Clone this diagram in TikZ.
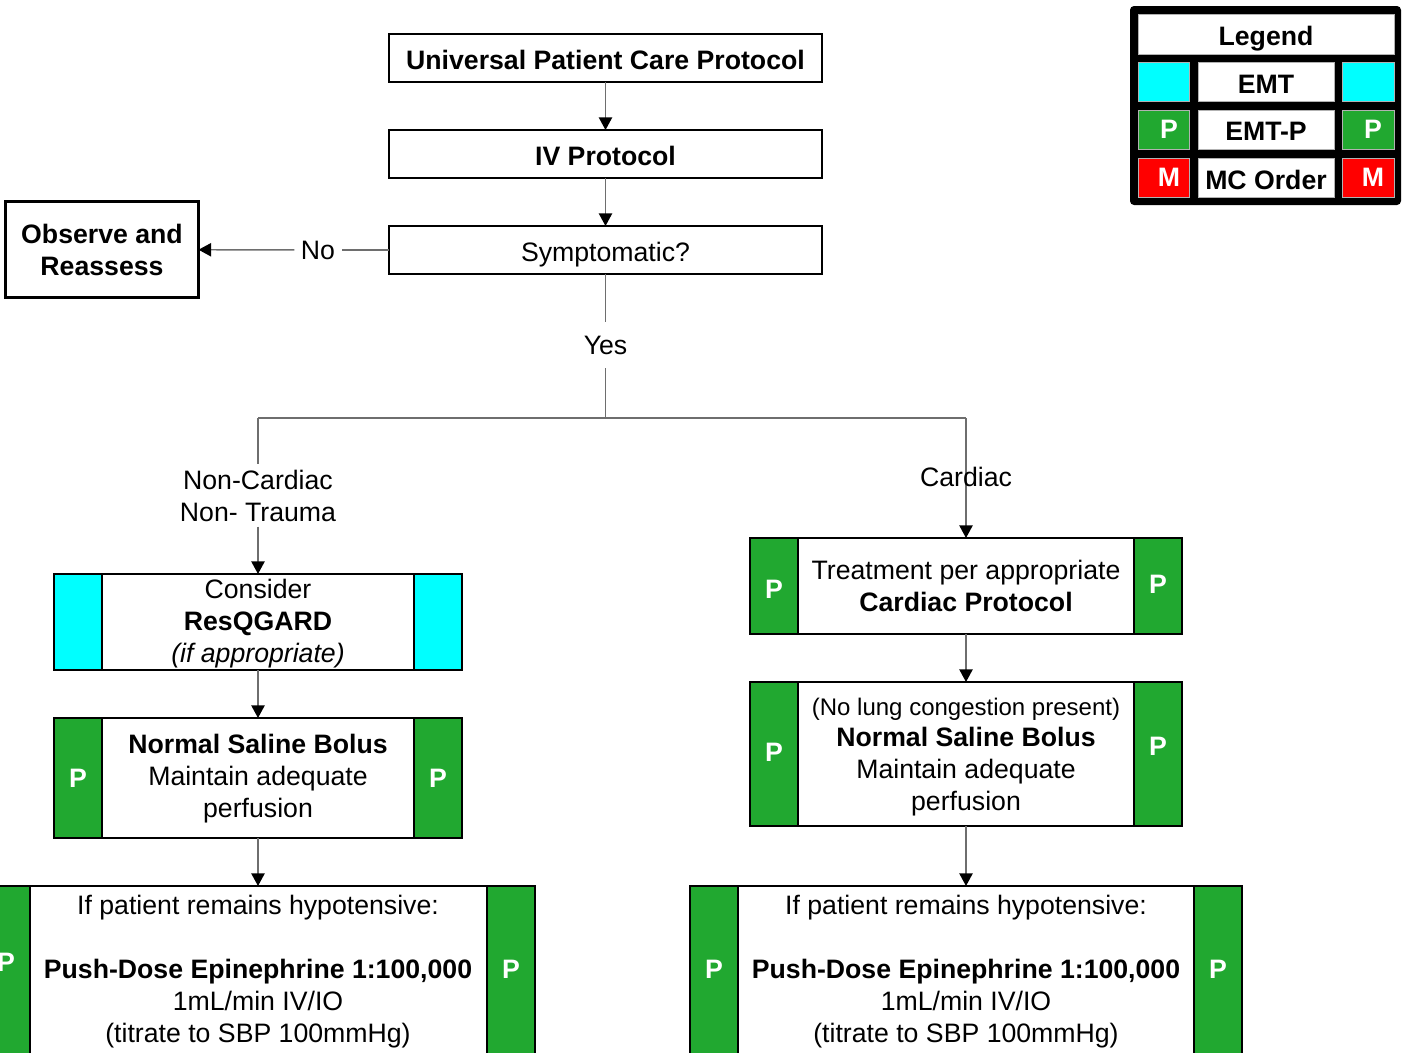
\documentclass[tikz,border=0pt]{standalone}
\usepackage{fontspec}
\setmainfont{Liberation Sans}
\usetikzlibrary{arrows.meta}
\definecolor{pgreen}{RGB}{33,168,48}
\definecolor{ecyan}{RGB}{0,255,255}
\definecolor{mred}{RGB}{255,0,0}
\definecolor{connc}{RGB}{110,110,110}
\begin{document}
\begin{tikzpicture}[x=0.75pt,y=-0.75pt,
  every node/.style={font=\fontsize{20}{24}\selectfont, inner sep=0pt, outer sep=0pt, text=black},
  box/.style={draw=black, line width=1.9pt, fill=white},
  sidebox/.style={draw=black, line width=1.9pt, minimum width=36pt, font=\fontsize{20}{24}\selectfont\bfseries, text=white},
  pbox/.style={sidebox, fill=pgreen},
  ebox/.style={sidebox, fill=ecyan},
  conn/.style={draw=connc, line width=1.1pt},
  arr/.style={conn, -{Triangle[length=9.5pt,width=10pt,color=black]}},
  bld/.style={font=\fontsize{20}{24}\selectfont\bfseries},
  cell/.style={draw=gray!60, line width=0.5pt},
  ptxt/.style={text=white, bld}
]
\useasboundingbox (0,0) rectangle (1403,1053);
\clip (0,0) rectangle (1403,1053);

% top boxes
\node[box, minimum width=433*0.75pt, minimum height=48*0.75pt] (upc) at (605.5,58) {};
\node[bld] (upct) at (605.5,60) {Universal Patient Care Protocol};
\node[box, minimum width=433*0.75pt, minimum height=48*0.75pt] (iv) at (605.5,154) {};
\node[bld] (ivt) at (605.5,156) {IV Protocol};
\node[box, minimum width=433*0.75pt, minimum height=48*0.75pt] (symp) at (605.5,250) {};
\node (sympt) at (605.5,255) {Symptomatic?};
\node[box, bld, align=center, minimum width=193*0.75pt, minimum height=96*0.75pt] (obs) at (102,249.5) {Observe and\\Reassess};

\draw[arr] (upc) -- (iv);
\draw[arr] (iv) -- (symp);

\node[inner xsep=5pt] (no) at (318,250) {No};
\draw[conn] (symp) -- (no);
\draw[arr] (no) -- (obs);

\node[inner ysep=10.5pt] (yes) at (605.5,345) {Yes};
\coordinate (j) at (605.5,418);
\coordinate (jl) at (258,418);
\coordinate (jr) at (966,418);
\draw[conn] (symp) -- (yes);
\draw[conn] (yes) -- (j);
\draw[conn] (jl) -- (jr);

% left column
\node[box, minimum width=408*0.75pt, minimum height=96*0.75pt] (cons) at (258,622) {};
\node[ebox, minimum height=96*0.75pt] (consl) at (78,622) {};
\node[ebox, minimum height=96*0.75pt] (consr) at (438,622) {};
\node[align=center] (const) at (258,624) {Consider\\\textbf{ResQGARD}\\\textit{(if appropriate)}};

\node[box, minimum width=408*0.75pt, minimum height=120*0.75pt] (ns1) at (258,778) {};
\node[pbox, minimum height=120*0.75pt] (ns1l) at (78,778) {P};
\node[pbox, minimum height=120*0.75pt] (ns1r) at (438,778) {P};
\node[align=center] (ns1t) at (258,779) {\textbf{Normal Saline Bolus}\\Maintain adequate\\perfusion};

\node[box, minimum width=553*0.75pt, minimum height=190*0.75pt] (push1) at (258.5,981) {};
\node[pbox, minimum height=190*0.75pt] (push1l) at (6,981) {};
\node[pbox, minimum height=190*0.75pt] (push1r) at (511,981) {};
\node[ptxt] (push1lp) at (6,962) {P};
\node[ptxt] (push1rp) at (511,969) {P};
\node[align=center] (push1t) at (258,972) {If patient remains hypotensive:\\[24pt]\textbf{Push-Dose Epinephrine 1:100,000}\\1mL/min IV/IO\\(titrate to SBP 100mmHg)};

\node[align=center, inner ysep=4pt] (nc) at (258,495.5) {Non-Cardiac\\Non- Trauma};
\draw[conn] (jl) -- (nc);
\draw[arr] (nc) -- (cons);
\draw[arr] (cons) -- (ns1);
\draw[arr] (ns1.south) -- (ns1.south |- push1.north);

% right column
\node[box, minimum width=432*0.75pt, minimum height=96*0.75pt] (treat) at (966,586) {};
\node[pbox, minimum height=96*0.75pt] (treatl) at (774,586) {};
\node[pbox, minimum height=96*0.75pt] (treatr) at (1158,586) {};
\node[ptxt] (treatlp) at (774,589) {P};
\node[ptxt] (treatrp) at (1158,584) {P};
\node[align=center] (treatt) at (966,585.5) {Treatment per appropriate\\\textbf{Cardiac Protocol}};

\node[box, minimum width=432*0.75pt, minimum height=144*0.75pt] (ns2) at (966,754) {};
\node[pbox, minimum height=144*0.75pt] (ns2l) at (774,754) {};
\node[pbox, minimum height=144*0.75pt] (ns2r) at (1158,754) {};
\node[ptxt] (ns2lp) at (774,752) {P};
\node[ptxt] (ns2rp) at (1158,746) {P};
\node[align=center] (ns2t) at (966,757) {{\fontsize{18}{22}\selectfont (No lung congestion present)}\\[-1pt]\textbf{Normal Saline Bolus}\\Maintain adequate\\perfusion};

\node[box, minimum width=552*0.75pt, minimum height=190*0.75pt] (push2) at (966,981) {};
\node[pbox, minimum height=190*0.75pt] (push2l) at (714,981) {};
\node[pbox, minimum height=190*0.75pt] (push2r) at (1218,981) {};
\node[ptxt] (push2lp) at (714,969) {P};
\node[ptxt] (push2rp) at (1218,969) {P};
\node[align=center] (push2t) at (966,972) {If patient remains hypotensive:\\[24pt]\textbf{Push-Dose Epinephrine 1:100,000}\\1mL/min IV/IO\\(titrate to SBP 100mmHg)};

\draw[arr] (jr) -- (treat.north);
\node (card) at (966,477) {Cardiac};
\draw[arr] (treat) -- (ns2);
\draw[arr] (ns2) -- (push2);

% legend
\node[fill=black, rounded corners=3pt, minimum width=271*0.75pt, minimum height=199*0.75pt] (legend) at (1265.5,105.5) {};
\node[cell, fill=white, minimum width=256*0.75pt, minimum height=40*0.75pt] (legt) at (1266,34) {};
\node[bld] (legtt) at (1266,39) {Legend};
\node[cell, fill=ecyan, minimum width=51*0.75pt, minimum height=39*0.75pt] (l1a) at (1163.5,81.5) {};
\node[cell, fill=white, minimum width=136*0.75pt, minimum height=39*0.75pt] (l1b) at (1266,81.5) {};
\node[bld] (l1bt) at (1266,84.5) {EMT};
\node[cell, fill=ecyan, minimum width=52*0.75pt, minimum height=39*0.75pt] (l1c) at (1368,81.5) {};
\node[cell, fill=pgreen, minimum width=51*0.75pt, minimum height=39*0.75pt] (l2a) at (1163.5,129.5) {};
\node[ptxt] (l2ap) at (1169,129.5) {P};
\node[cell, fill=white, minimum width=136*0.75pt, minimum height=39*0.75pt] (l2b) at (1266,129.5) {};
\node[bld] (l2bt) at (1266,131.5) {EMT-P};
\node[cell, fill=pgreen, minimum width=52*0.75pt, minimum height=39*0.75pt] (l2c) at (1368,129.5) {};
\node[ptxt] (l2cp) at (1373,129.5) {P};
\node[cell, fill=mred, minimum width=51*0.75pt, minimum height=39*0.75pt] (l3a) at (1163.5,177.5) {};
\node[ptxt] (l3ap) at (1169,177.5) {M};
\node[cell, fill=white, minimum width=136*0.75pt, minimum height=39*0.75pt] (l3b) at (1266,177.5) {};
\node[bld] (l3bt) at (1266,180) {MC Order};
\node[cell, fill=mred, minimum width=52*0.75pt, minimum height=39*0.75pt] (l3c) at (1368,177.5) {};
\node[ptxt] (l3cp) at (1373,177.5) {M};
\end{tikzpicture}
\end{document}
